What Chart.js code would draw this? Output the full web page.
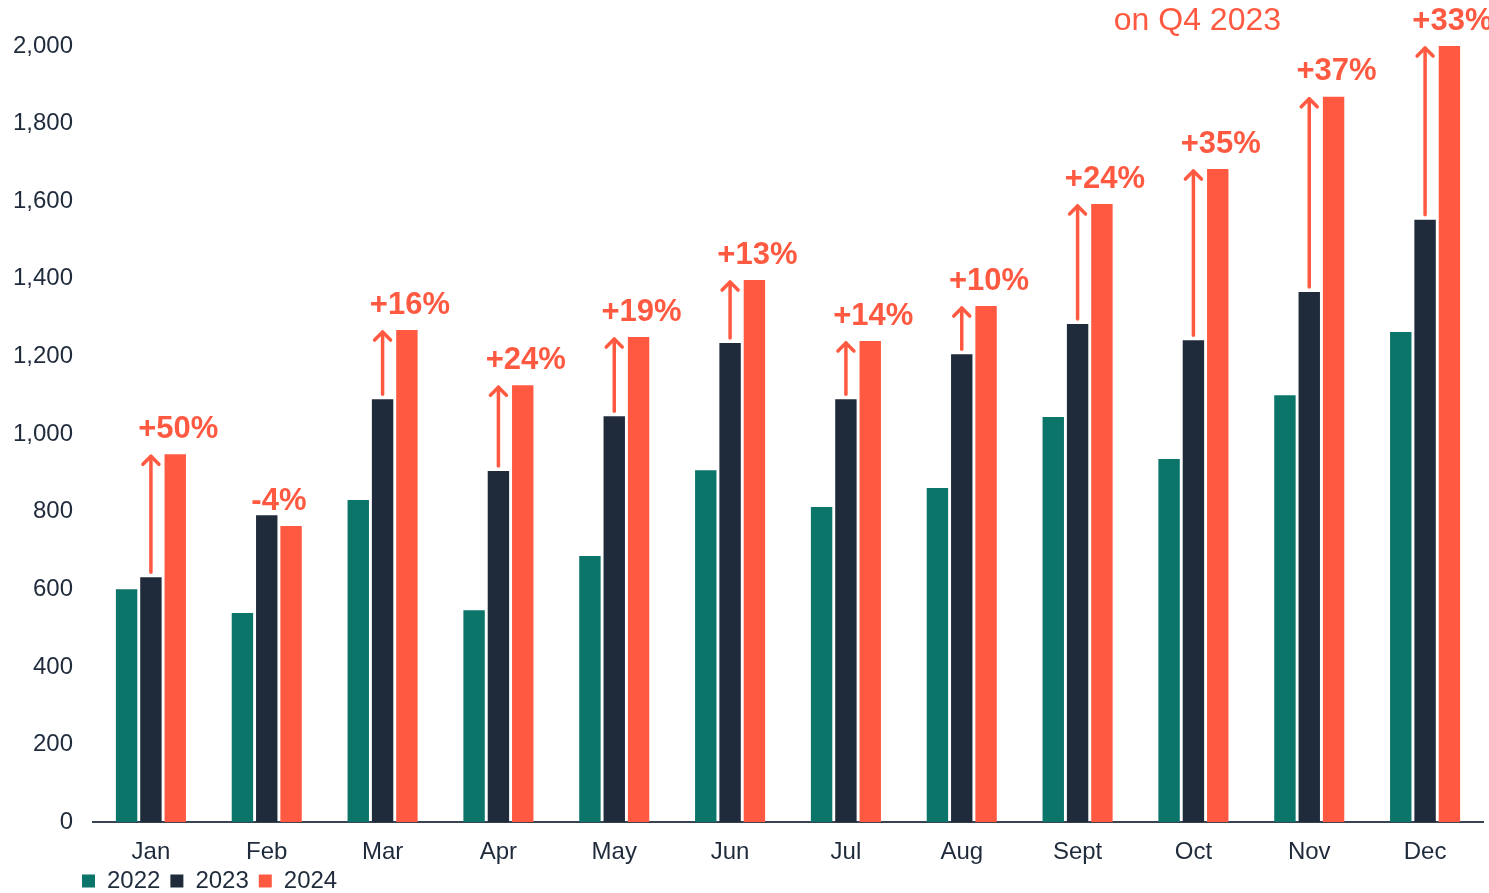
<!DOCTYPE html>
<html>
<head>
<meta charset="utf-8">
<script src="https://cdn.jsdelivr.net/npm/chart.js@4.4.1/dist/chart.umd.min.js"></script>
<style>
  html, body { margin: 0; padding: 0; background: #ffffff; }
  #wrap { width: 1489px; height: 893px; position: relative; }
</style>
</head>
<body>
<div id="wrap"><canvas id="chart"></canvas></div>
<script>
// Monthly values
const months = ['Jan', 'Feb', 'Mar', 'Apr', 'May', 'Jun', 'Jul', 'Aug', 'Sept', 'Oct', 'Nov', 'Dec'];
const values2022 = [600, 539, 830, 546, 686, 907, 812, 861, 1044, 936, 1100, 1263];
const values2023 = [631, 791, 1090, 905, 1046, 1235, 1090, 1206, 1284, 1242, 1366, 1552];
const values2024 = [948, 763, 1268, 1126, 1250, 1397, 1240, 1330, 1593, 1683, 1869, 2000];
const changeLabels = ['+50%', '-4%', '+16%', '+24%', '+19%', '+13%', '+14%', '+10%', '+24%', '+35%', '+37%', '+33%'];
const headerText = 'on Q4 2023';
const headerMonth = 'Oct';

const TEAL = '#0b7569';
const NAVY = '#1f2a3b';
const ORANGE = '#ff5a41';
const TEXT = '#1f2a3b';
const FONT = '"Liberation Sans", Arial, sans-serif';

// arrows from the 2023 bar up to the 2024 bar, with the % change above
const changePlugin = {
  id: 'changeArrows',
  afterLayout(chart) {
    // legend sits tucked under the month labels, indented like the original
    const lg = chart.legend;
    const dx = 60, dy = 24;
    lg.left += dx; lg.right += dx;
    lg.top -= dy; lg.bottom -= dy;
  },
  afterDatasetsDraw(chart) {
    const ctx = chart.ctx;
    const y = chart.scales.y;
    const meta23 = chart.getDatasetMeta(1);
    const meta24 = chart.getDatasetMeta(2);
    ctx.save();
    ctx.strokeStyle = ORANGE;
    ctx.fillStyle = ORANGE;
    ctx.lineWidth = 3.5;
    ctx.lineCap = 'round';
    ctx.lineJoin = 'round';

    months.forEach((m, i) => {
      const x23 = meta23.data[i].x;
      const x24 = meta24.data[i].x;
      const top23 = y.getPixelForValue(values2023[i]);
      const top24 = y.getPixelForValue(values2024[i]);
      const up = changeLabels[i].startsWith('+');

      if (up) {
        const tip = top24 + 1;
        ctx.beginPath();
        ctx.moveTo(x23, top23 - 5);
        ctx.lineTo(x23, tip + 1);
        ctx.stroke();
        ctx.beginPath();
        ctx.moveTo(x23 - 8, tip + 9);
        ctx.lineTo(x23, tip + 1);
        ctx.lineTo(x23 + 8, tip + 9);
        ctx.stroke();
      }

      ctx.font = 'bold 31px ' + FONT;
      ctx.textAlign = 'center';
      ctx.textBaseline = 'middle';
      // a fall has no arrow, so its label sits between the two bars
      const lx = up ? x24 + 3 : (x23 + x24) / 2;
      ctx.fillText(changeLabels[i], lx, top24 - 25);
    });

    // cut-off header line at the top
    const xs = chart.scales.x;
    ctx.font = '32px ' + FONT;
    ctx.textAlign = 'center';
    ctx.textBaseline = 'alphabetic';
    ctx.fillText(headerText, xs.getPixelForValue(months.indexOf(headerMonth)) + 4, 30);
    ctx.restore();
  }
};

new Chart(document.getElementById('chart'), {
  type: 'bar',
  data: {
    labels: months,
    datasets: [
      { label: '2022', data: values2022, backgroundColor: TEAL },
      { label: '2023', data: values2023, backgroundColor: NAVY },
      { label: '2024', data: values2024, backgroundColor: ORANGE },
    ],
  },
  options: {
    responsive: true,
    maintainAspectRatio: false,
    animation: false,
    datasets: {
      bar: {
        categoryPercentage: 0.63,
        barPercentage: 0.88,
      },
    },
    layout: {
      padding: { top: 46, right: 6, left: 12, bottom: -34 },
    },
    scales: {
      x: {
        grid: { display: false, drawTicks: false },
        border: { display: true, color: '#3a4352', width: 2 },
        ticks: {
          color: TEXT,
          font: { family: FONT, size: 24 },
          padding: 16,
        },
      },
      y: {
        min: 0,
        max: 2000,
        grid: { display: false, drawTicks: false },
        border: { display: false },
        afterFit: (scale) => { scale.width = 81; },
        ticks: {
          stepSize: 200,
          color: TEXT,
          padding: 20,
          font: { family: FONT, size: 24 },
          callback: (v) => v.toLocaleString('en-US'),
        },
      },
    },
    plugins: {
      legend: {
        position: 'bottom',
        align: 'start',
        labels: {
          color: TEXT,
          font: { family: FONT, size: 24 },
          boxWidth: 13,
          boxHeight: 13,
          padding: 10,
        },
      },
      tooltip: { enabled: false },
    },
  },
  plugins: [changePlugin],
});
</script>
</body>
</html>
